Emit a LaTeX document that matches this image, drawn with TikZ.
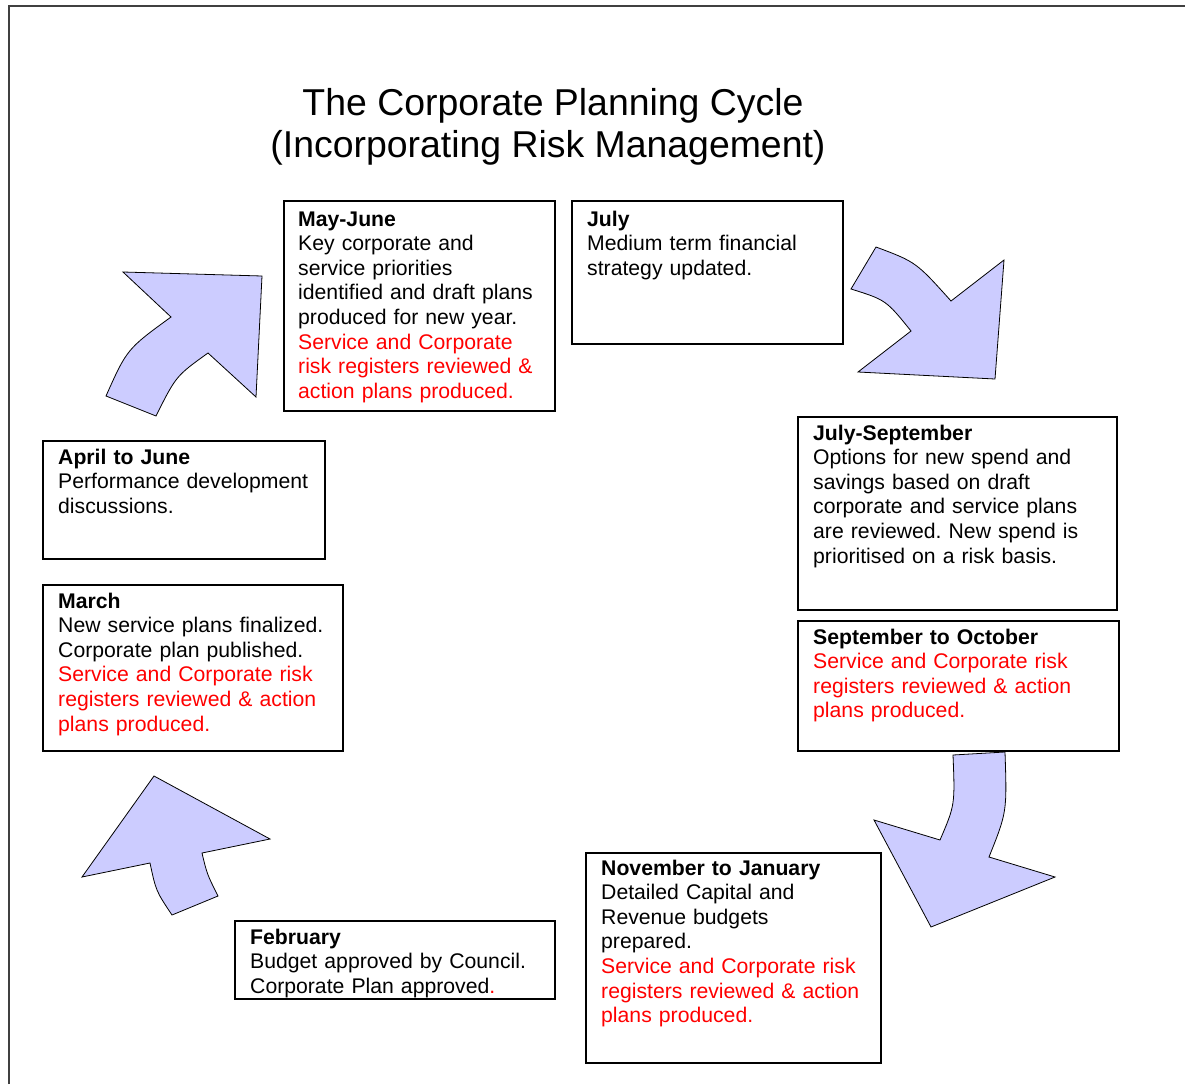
\documentclass[tikz,border=0pt]{standalone}
\usepackage{fontspec}
\setmainfont{Liberation Sans}
\definecolor{arrowfill}{RGB}{204,204,255}
\definecolor{riskred}{RGB}{255,0,0}
\frenchspacing
\begin{document}
\begin{tikzpicture}[x=1pt,y=-1pt,
  boxn/.style={draw, line width=1.8pt, anchor=north west, inner sep=0pt, minimum width=#1},
  boxtext/.style={anchor=base west, inner sep=0pt, align=left, text width=330pt,
     font=\fontsize{21.2}{24.6}\selectfont},
  titletext/.style={anchor=base, inner sep=0pt, font=\fontsize{37.4}{42}\selectfont},
  bigarrow/.style={fill=arrowfill, draw=black, line width=0.8pt, line join=miter},
  frameline/.style={draw=black!75, line width=2pt}
]
\useasboundingbox (0,0) rectangle (1185,1084);
% frame (left and top edges only)
\coordinate (fbl) at (9,1084);
\coordinate (ftl) at (9,6);
\coordinate (ftr) at (1185,6);
\draw[frameline] (fbl) -- (ftl) -- (ftr);

% title
\node[titletext] (title1) at (553,115) {The Corporate Planning Cycle};
\node[titletext] (title2) at (548,157) {(Incorporating Risk Management)};

% boxes
\node[boxn=271pt, minimum height=210pt] (bmay) at (283,200) {};
\node[boxn=271pt, minimum height=143pt] (bjul) at (571,200) {};
\node[boxn=319pt, minimum height=193pt] (bjulsep) at (797,416) {};
\node[boxn=321pt, minimum height=130pt] (bsepoct) at (797,620) {};
\node[boxn=295pt, minimum height=210pt] (bnov) at (585,852) {};
\node[boxn=320pt, minimum height=78pt] (bfeb) at (234,920) {};
\node[boxn=300pt, minimum height=166pt] (bmar) at (42,584) {};
\node[boxn=282pt, minimum height=118pt] (bapr) at (42,440) {};

% texts
\node[boxtext] (tmay) at (298,226) {\textbf{May-June}\\Key corporate and\\service priorities\\identified and draft plans\\produced for new year.\\
  \textcolor{riskred}{Service and Corporate}\\\textcolor{riskred}{risk registers reviewed \&}\\\textcolor{riskred}{action plans produced.}};
\node[boxtext] (tjul) at (587,226) {\textbf{July}\\Medium term financial\\strategy updated.};
\node[boxtext] (tjulsep) at (813,440) {\textbf{July-September}\\Options for new spend and\\savings based on draft\\corporate and service plans\\are reviewed. New spend is\\prioritised on a risk basis.};
\node[boxtext] (tsepoct) at (813,644) {\textbf{September to October}\\\textcolor{riskred}{Service and Corporate risk}\\\textcolor{riskred}{registers reviewed \& action}\\\textcolor{riskred}{plans produced.}};
\node[boxtext] (tnov) at (601,875) {\textbf{November to January}\\Detailed Capital and\\Revenue budgets\\prepared.\\\textcolor{riskred}{Service and Corporate risk}\\\textcolor{riskred}{registers reviewed \& action}\\\textcolor{riskred}{plans produced.}};
\node[boxtext] (tfeb) at (250,944) {\textbf{February}\\Budget approved by Council.\\Corporate Plan approved\textcolor{riskred}{.}};
\node[boxtext] (tmar) at (58,608) {\textbf{March}\\New service plans finalized.\\Corporate plan published.\\\textcolor{riskred}{Service and Corporate risk}\\\textcolor{riskred}{registers reviewed \& action}\\\textcolor{riskred}{plans produced.}};
\node[boxtext] (tapr) at (58,464) {\textbf{April to June}\\Performance development\\discussions.};

% curved block arrows
% upper left (pointing up-right)
\path[bigarrow] (123,272) -- (262,276) -- (256,397) -- (208,353)
  .. controls (176,376) .. (156,416) -- (106,396)
  .. controls (127,349) .. (171,317) -- cycle;
% upper right (pointing down-right)
\path[bigarrow] (876,247) .. controls (916,262) .. (951,301) -- (1004,260)
  -- (995,379) -- (858,372) -- (911,331)
  .. controls (886,300) .. (851,289) -- cycle;
% lower right (pointing down-left)
\path[bigarrow] (953,755) -- (1005,752) .. controls (1007,812) .. (989,857)
  -- (1055,877) -- (931,927) -- (874,820) -- (940,840)
  .. controls (955,805) .. (953,755) -- cycle;
% lower left (pointing up)
\path[bigarrow] (154,776) -- (270,839) -- (202,853)
  .. controls (207,874) .. (218,896) -- (172,915)
  .. controls (156,891) .. (150,863) -- (82,877) -- cycle;
\end{tikzpicture}
\end{document}
